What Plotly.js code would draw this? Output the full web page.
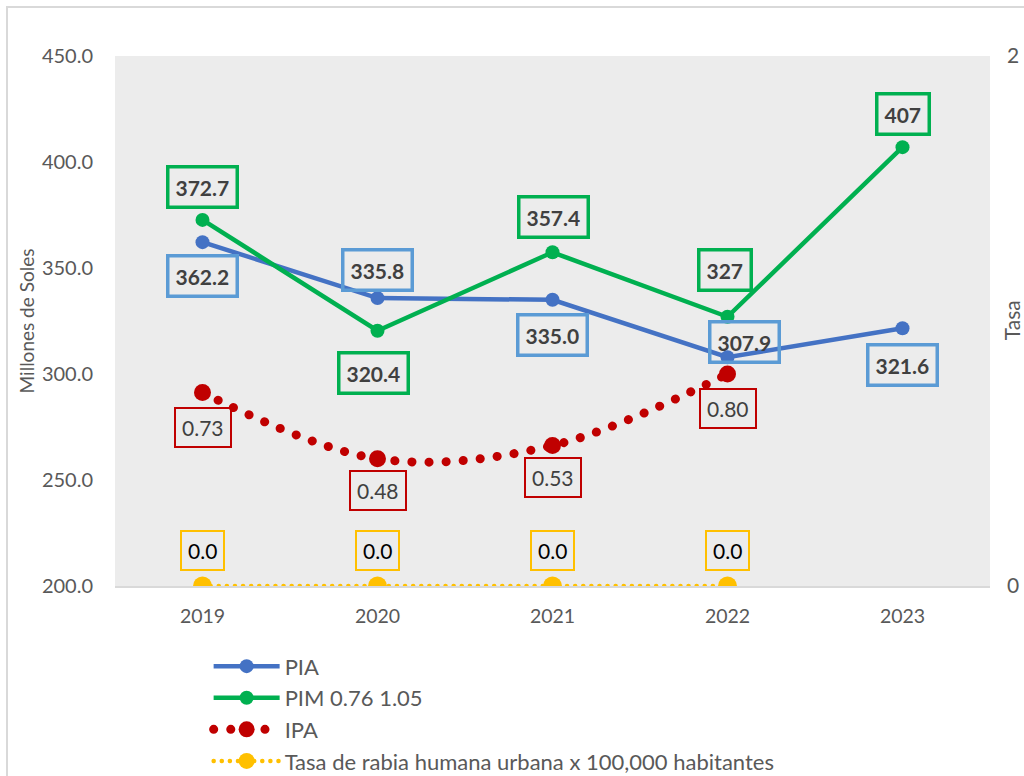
<!DOCTYPE html>
<html>
<head>
<meta charset="utf-8">
<script src="https://cdn.plot.ly/plotly-3.0.1.min.js"></script>
<style>
html,body{margin:0;padding:0;background:#fff;overflow:hidden;}
#frame{position:absolute;left:6px;top:6px;width:1200px;height:1000px;border:2px solid #d9d9d9;pointer-events:none;z-index:5;}
#chart{position:absolute;left:0;top:0;width:1024px;height:776px;}
</style>
</head>
<body>
<div id="chart"></div>
<div id="frame"></div>
<script>
var years = ['2019','2020','2021','2022','2023'];
var pia = [362.2, 335.8, 335.0, 307.9, 321.6];
var pim = [372.7, 320.4, 357.4, 327, 407];
var pimLabels = ['372.7','320.4','357.4','327','407'];
var ipaYears = ['2019','2020','2021','2022'];
var ipa = [0.73, 0.48, 0.53, 0.80];
var tasa = [0.0, 0.0, 0.0, 0.0];
var seriesNames = ['PIA', 'PIM 0.76 1.05', 'IPA', 'Tasa de rabia humana urbana x 100,000 habitantes'];
var leftTicks = [200, 250, 300, 350, 400, 450];
var rightTicks = [0, 2];

var FONT = 'Lato, "Liberation Sans", sans-serif';
var GREY = '#595959';

var traces = [
  {x: years, y: pia, name: seriesNames[0], type: 'scatter', mode: 'lines+markers',
   line: {color: '#4472c4', width: 4.5}, marker: {color: '#4472c4', size: 14}},
  {x: years, y: pim, name: seriesNames[1], type: 'scatter', mode: 'lines+markers',
   line: {color: '#00b050', width: 4.5}, marker: {color: '#00b050', size: 14}},
  {x: ipaYears, y: ipa, name: seriesNames[2], type: 'scatter', mode: 'lines+markers', yaxis: 'y2',
   line: {color: '#c00000', width: 9, dash: '0.1px,17px', shape: 'spline'}, marker: {color: '#c00000', size: 17}},
  {x: ipaYears, y: tasa, name: seriesNames[3], type: 'scatter', mode: 'lines+markers', yaxis: 'y2',
   line: {color: '#ffc000', width: 4.5, dash: '0.1px,8px'}, marker: {color: '#ffc000', size: 19}}
];

var annotations = [];
function lab(i, y, text, yref, xs, ys, border, bw, bold, color) {
  annotations.push({
    x: i, y: y, xref: 'x', yref: yref, text: bold ? '<b>' + text + '</b>' : text,
    showarrow: false, xshift: xs, yshift: ys,
    font: {family: FONT, size: 21, color: color},
    bordercolor: border, borderwidth: bw, borderpad: 6
  });
}
var piaShift = [[0,-34],[0,28],[0,-35],[17,15],[0,-37]];
var pimShift = [[0,33],[-4,-42],[1,35],[-3,47],[0,33]];
years.forEach(function(yr, i) {
  lab(i, pia[i], pia[i].toFixed(1), 'y', piaShift[i][0], piaShift[i][1], '#5b9bd5', 3.5, true, '#404040');
  lab(i, pim[i], pimLabels[i], 'y', pimShift[i][0], pimShift[i][1], '#00b050', 3.5, true, '#404040');
});
var ipaShift = [-35,-32,-32,-34];
ipaYears.forEach(function(yr, i) {
  lab(i, ipa[i], ipa[i].toFixed(2), 'y2', 0, ipaShift[i], '#c00000', 2, false, '#404040');
  lab(i, tasa[i], tasa[i].toFixed(1), 'y2', 0, 36, '#ffc000', 2, false, '#000000');
});
annotations.push({
  xref: 'paper', yref: 'paper', x: 1.042, y: 0.502, text: 'Tasa', textangle: -90,
  showarrow: false, font: {family: FONT, size: 21, color: GREY}
});

var layout = {
  width: 1024, height: 776,
  margin: {l: 115, r: 34, t: 56, b: 190, autoexpand: false},
  paper_bgcolor: '#ffffff', plot_bgcolor: '#ececec',
  font: {family: FONT, color: GREY},
  showlegend: true,
  legend: {x: 0.107, y: -0.112, xanchor: 'left', yanchor: 'top', orientation: 'v',
           font: {family: FONT, size: 22, color: GREY}, itemwidth: 66, tracegroupgap: 0,
           bgcolor: 'rgba(0,0,0,0)'},
  xaxis: {type: 'category', range: [-0.5, 4.5], showgrid: false, zeroline: false,
          showline: true, linecolor: '#d9d9d9', linewidth: 2, ticks: '', ticklabelstandoff: 12,
          tickfont: {family: FONT, size: 19.5, color: GREY}},
  yaxis: {range: [200, 450], tickvals: leftTicks, tickformat: '.1f',
          showgrid: false, zeroline: false, showline: false, ticks: '', ticklabelstandoff: 21,
          tickfont: {family: FONT, size: 20, color: GREY},
          title: {text: 'Millones de Soles', font: {family: FONT, size: 19, color: GREY}, standoff: 2}},
  yaxis2: {overlaying: 'y', side: 'right', range: [0, 2], tickvals: rightTicks,
           showgrid: false, zeroline: false, showline: false, ticks: '', ticklabelstandoff: 16,
           tickfont: {family: FONT, size: 21, color: GREY}},
  annotations: annotations
};

function roundCaps() {
  var sl = document.querySelectorAll('.scatterlayer .trace');
  [2, 3].forEach(function(k) {
    if (sl[k]) sl[k].querySelectorAll('path.js-line').forEach(function(p) { p.style.strokeLinecap = 'round'; });
  });
  var lg = document.querySelectorAll('.legend .traces');
  [2, 3].forEach(function(k) {
    if (lg[k]) lg[k].querySelectorAll('path.js-line').forEach(function(p) { p.style.strokeLinecap = 'round'; });
  });
}
Plotly.newPlot('chart', traces, layout, {displayModeBar: false, staticPlot: true}).then(roundCaps);
</script>
</body>
</html>
